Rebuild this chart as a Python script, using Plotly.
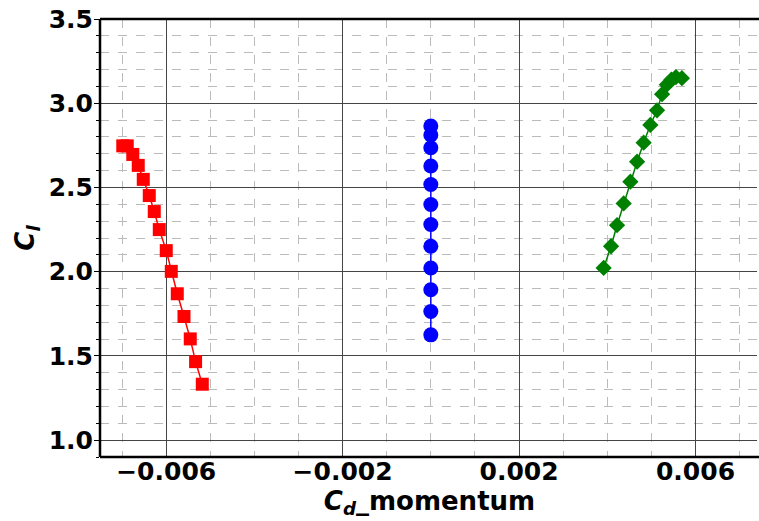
import plotly.graph_objects as go

# Lift coefficient vs momentum drag coefficient for three configurations
red_cd = [-0.006984, -0.006882, -0.006757, -0.006633, -0.006519, -0.006383, -0.006270,
          -0.006156, -0.005998, -0.005884, -0.005748, -0.005596, -0.005454, -0.005333, -0.005181]
red_cl = [2.747, 2.747, 2.696, 2.631, 2.548, 2.452, 2.357, 2.250, 2.125, 2.002,
          1.869, 1.734, 1.601, 1.466, 1.332]

blue_cd = [0.0] * 12
blue_cl = [2.865, 2.811, 2.736, 2.627, 2.518, 2.399, 2.280, 2.151, 2.022, 1.893, 1.764, 1.625]

green_cd = [0.003918, 0.004086, 0.004222, 0.004372, 0.004524, 0.004676, 0.004825,
            0.004977, 0.005129, 0.005243, 0.005351, 0.005454, 0.005556, 0.005692]
green_cl = [2.022, 2.151, 2.276, 2.405, 2.534, 2.653, 2.766, 2.871, 2.958, 3.054,
            3.110, 3.140, 3.155, 3.149]

x_ticks = [-0.006, -0.002, 0.002, 0.006]
y_ticks = [1.0, 1.5, 2.0, 2.5, 3.0, 3.5]

FONT = "DejaVu Sans"

fig = go.Figure()
fig.add_trace(go.Scatter(x=red_cd, y=red_cl, mode="lines+markers",
                         line=dict(color="red", width=1.5),
                         marker=dict(symbol="square", size=13, color="red")))
fig.add_trace(go.Scatter(x=blue_cd, y=blue_cl, mode="lines+markers",
                         line=dict(color="blue", width=1.5),
                         marker=dict(symbol="circle", size=15, color="blue")))
fig.add_trace(go.Scatter(x=green_cd, y=green_cl, mode="lines+markers",
                         line=dict(color="green", width=1.5),
                         marker=dict(symbol="diamond", size=12.5, color="green")))

# the right spine sits past the edge of the figure, so keep that edge open
fig.add_shape(type="rect", xref="paper", yref="paper",
              x0=0.997, x1=1.02, y0=0.004, y1=0.996,
              line=dict(width=0), fillcolor="white", layer="above")

# left, bottom and top spines
spine = dict(type="line", xref="paper", yref="paper",
             line=dict(color="black", width=2.5), layer="above")
fig.add_shape(x0=0, x1=0, y0=0, y1=1, **spine)
fig.add_shape(x0=0, x1=1.02, y0=0, y1=0, **spine)
fig.add_shape(x0=0, x1=1.02, y0=1, y1=1, **spine)

fig.update_layout(
    width=759, height=521,
    margin=dict(l=100, r=0, t=19, b=64),
    plot_bgcolor="white", paper_bgcolor="white",
    showlegend=False,
    font=dict(family=FONT, color="black"),
)

fig.update_xaxes(
    range=[-0.0075, 0.00744],
    tickvals=x_ticks, tickformat=".3f",
    tickfont=dict(family=FONT, size=25, weight="bold", color="black"),
    showgrid=True, gridcolor="#444444", gridwidth=1,
    zeroline=False, showline=False,
    ticks="", ticklabelstandoff=-3,
    minor=dict(dtick=0.001, tick0=0, showgrid=True, gridcolor="#bbbbbb",
               griddash="dash", gridwidth=1, ticks=""),
    title=dict(text="<i>C</i><sub><i>d</i></sub>_momentum",
               font=dict(family=FONT, size=26, weight="bold", color="black"),
               standoff=6),
)

fig.update_yaxes(
    range=[0.9, 3.5],
    tickvals=y_ticks, tickformat=".1f",
    tickfont=dict(family=FONT, size=25, weight="bold", color="black"),
    showgrid=True, gridcolor="#444444", gridwidth=1,
    zeroline=False, showline=False,
    ticks="outside", ticklen=5, tickwidth=1, tickcolor="black",
    ticklabelstandoff=-4,
    minor=dict(dtick=0.1, tick0=0, showgrid=True, gridcolor="#bbbbbb",
               griddash="dash", gridwidth=1, ticks="outside", ticklen=3,
               tickcolor="black"),
    title=dict(text="<i>C</i><sub><i>l</i></sub>",
               font=dict(family=FONT, size=26, weight="bold", color="black"),
               standoff=6),
)

fig.write_html("out.html")
